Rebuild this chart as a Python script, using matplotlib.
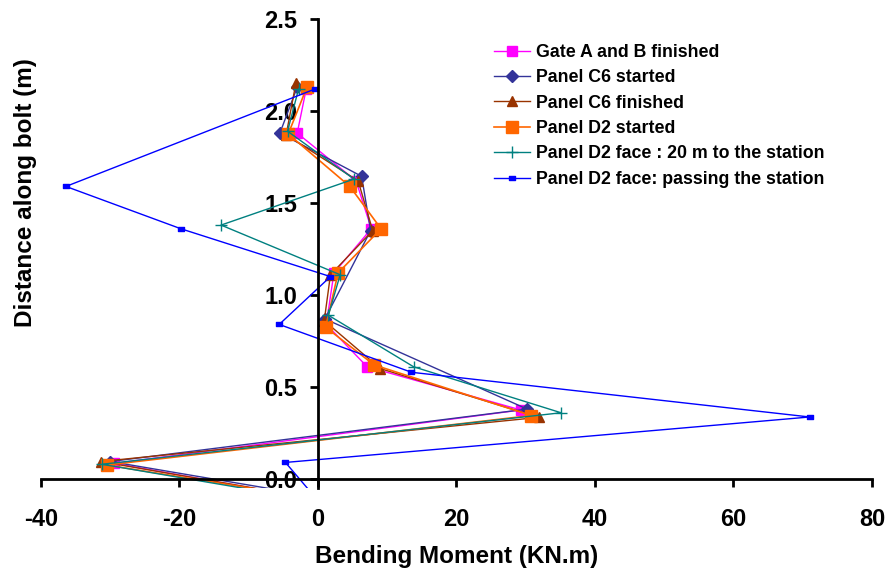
import matplotlib
matplotlib.use("Agg")
import matplotlib.pyplot as plt
from matplotlib.path import Path

plt.rcParams['font.family'] = ['Liberation Sans', 'DejaVu Sans']
plt.rcParams['font.weight'] = 'bold'

# ---- data ----
labels = ["Gate A and B finished", "Panel C6 started", "Panel C6 finished",
          "Panel D2 started", "Panel D2 face : 20 m to the station",
          "Panel D2 face: passing the station"]

gate_x = [-1.7, -3.0, 5.5, 7.7, 2.3, 1.2, 7.1, 29.3, -29.4, -2.0]
gate_y = [2.12, 1.88, 1.62, 1.36, 1.12, 0.84, 0.61, 0.375, 0.085, -0.10]

c6s_x = [-3.0, -5.5, 6.3, 7.6, 1.0, 30.2, -30.0, 0.5]
c6s_y = [2.13, 1.88, 1.645, 1.35, 0.87, 0.38, 0.095, -0.10]

c6f_x = [-3.2, -4.6, 5.8, 7.9, 1.8, 0.9, 9.0, 31.9, -31.4, -1.5]
c6f_y = [2.15, 1.87, 1.62, 1.35, 1.11, 0.86, 0.60, 0.335, 0.095, -0.10]

d2s_x = [-1.6, -4.3, 4.6, 9.1, 2.9, 1.1, 8.1, 30.8, -30.5, -1.5]
d2s_y = [2.13, 1.875, 1.59, 1.36, 1.12, 0.825, 0.62, 0.345, 0.076, -0.10]

d20_x = [-2.8, -4.4, 5.2, -14.0, 3.2, 1.5, 13.8, 35.1, -31.2, -3.0]
d20_y = [2.12, 1.89, 1.63, 1.38, 1.11, 0.89, 0.61, 0.36, 0.08, -0.10]

dps_x = [-0.4, -36.4, -19.8, 1.8, -5.6, 13.5, 71.0, -4.7, -0.4]
dps_y = [2.12, 1.59, 1.36, 1.10, 0.84, 0.58, 0.337, 0.09, -0.10]

x_ticks = [-40, -20, 0, 20, 40, 60, 80]
y_ticks = [0.0, 0.5, 1.0, 1.5, 2.0, 2.5]

# ---- figure ----
fig = plt.figure(figsize=(8.92, 5.77), dpi=100)
ax = fig.add_axes([41/892, 1-488.2/577, 831/892, 469.2/577])

dash = Path([(-1, -0.45), (1, -0.45), (1, 0.45), (-1, 0.45), (-1, -0.45)],
            [Path.MOVETO, Path.LINETO, Path.LINETO, Path.LINETO, Path.CLOSEPOLY])

styles = [
    dict(color='#FF00FF', marker='s', ms=6.5, lw=1.0),
    dict(color='#333399', marker='D', ms=6, lw=1.0),
    dict(color='#993300', marker='^', ms=7.5, lw=1.0),
    dict(color='#FF6600', marker='s', ms=9, lw=1.2),
    dict(color='#008080', marker='+', ms=9, mew=1.0, lw=1.0),
    dict(color='#0000FF', marker=dash, ms=5, lw=1.0),
]
series = [(gate_x, gate_y), (c6s_x, c6s_y), (c6f_x, c6f_y),
          (d2s_x, d2s_y), (d20_x, d20_y), (dps_x, dps_y)]

for (xs, ys), st, lab in zip(series, styles, labels):
    ax.plot(xs, ys, label=lab, **st)

ax.set_xlim(-40, 80)
ax.set_ylim(-0.05, 2.5)
ax.spines['left'].set_position(('data', 0))
ax.spines['bottom'].set_position(('data', 0))
ax.spines['right'].set_visible(False)
ax.spines['top'].set_visible(False)
ax.spines['left'].set_linewidth(2)
ax.spines['bottom'].set_linewidth(2)
ax.spines['bottom'].set_bounds(-40, 80)

ax.set_xticks(x_ticks)
ax.set_xticklabels([str(v) for v in x_ticks])
ax.set_yticks(y_ticks)
ax.set_yticklabels([f"{v:.1f}" for v in y_ticks])
ax.tick_params(axis='both', direction='out', length=6, width=2, labelsize=17)
ax.tick_params(axis='y', pad=9)
ax.tick_params(axis='x', pad=15)

ax.set_xlabel("Bending Moment (KN.m)", fontsize=17.5, fontweight='bold')
ax.set_ylabel("Distance along bolt (m)", fontsize=17.5, fontweight='bold')
ax.xaxis.set_label_coords(0.5, (488.2 - 556) / 469.2)
ax.xaxis.label.set_va('center')
ax.yaxis.set_label_coords((26 - 41) / 831, (488.2 - 193) / 469.2)
ax.yaxis.label.set_va('center')

leg = ax.legend(loc='upper left', bbox_to_anchor=(494/892, 1 - 44/577),
                bbox_transform=fig.transFigure, frameon=False, fontsize=12.8,
                handlelength=2.0, handletextpad=0.35, labelspacing=0.47,
                borderpad=0, borderaxespad=0, numpoints=1)

fig.savefig("out.png", dpi=100)
